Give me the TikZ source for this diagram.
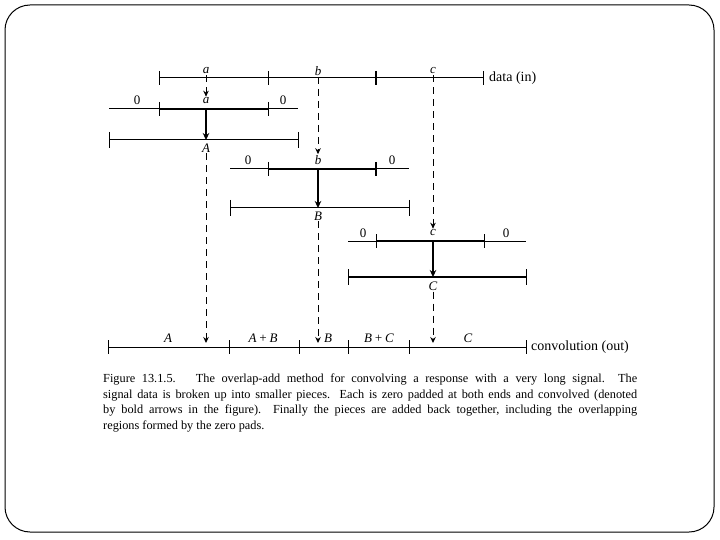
\documentclass[tikz,border=0pt]{standalone}
\usepackage{fontspec}
\setmainfont{Liberation Serif}
\usetikzlibrary{arrows.meta}
\newcommand\wsp{\char32\hskip 0pt plus 4pt\relax}
\newcommand\fwsp{\char32\relax}
\begin{document}
\begin{tikzpicture}[x=1pt,y=-1pt,
  seg/.style={line width=1pt},
  bseg/.style={line width=1.7pt},
  tk/.style={line width=1pt},
  btk/.style={line width=2pt},
  darrow/.style={line width=0.9pt, dash pattern=on 7pt off 5pt, -{Stealth[length=6pt,width=5.5pt]}},
  barrow/.style={line width=2.3pt, -{Stealth[length=7pt,width=6.5pt]}},
  lbl/.style={font=\fontsize{13}{14}\selectfont\itshape, inner sep=1pt},
  zlbl/.style={font=\fontsize{13}{14}\selectfont, inner sep=1pt},
  txt/.style={font=\fontsize{14}{15}\selectfont, inner sep=0pt, anchor=west}]
\useasboundingbox (0,0) rectangle (720,540);
\draw[line width=1pt, rounded corners=25pt] (5,5) rectangle (714,532);

% data (in)
\coordinate (d0) at (159,78); \coordinate (d3) at (483,78);
\draw[seg] (d0) -- (d3);
\draw[tk] (159,71) -- (159,85);
\draw[tk] (268,71) -- (268,85);
\draw[btk] (376,71) -- (376,85);
\draw[tk] (483,71) -- (483,85);
\node[lbl] (a) at (206,71) {a};
\node[lbl] (b) at (318,71) {b};
\node[lbl] (c) at (433,71) {c};
\node[txt] (din) at (489,78) {data\fwsp(in)};

% row a padded
\coordinate (r2l) at (109,109); \coordinate (r2r) at (298,109);
\draw[seg] (r2l) -- (r2r);
\draw[bseg] (159,109) -- (268,109);
\draw[tk] (159,102) -- (159,116);
\draw[tk] (268,102) -- (268,116);
\node[zlbl] (za1) at (137,100) {0};
\node[lbl] (a2) at (206,101) {a};
\node[zlbl] (za2) at (283,100) {0};
\coordinate (a2b) at (206,109);
\draw[darrow] (a.south) -- (a2.north);

% row A
\coordinate (r3l) at (109,140); \coordinate (r3r) at (298,140);
\draw[seg] (r3l) -- (r3r);
\draw[tk] (109,132) -- (109,148);
\draw[tk] (298,132) -- (298,148);
\node[lbl] (A) at (206,148) {A};
\coordinate (A0) at (206,140);
\draw[barrow] (a2b) -- (A0);

% row b padded
\coordinate (r4l) at (230,169); \coordinate (r4r) at (409,169);
\draw[seg] (r4l) -- (r4r);
\draw[bseg] (268,169) -- (376,169);
\draw[tk] (268,162) -- (268,176);
\draw[btk] (376,162) -- (376,176);
\node[zlbl] (zb1) at (248,160) {0};
\node[lbl] (b2) at (318,160) {b};
\node[zlbl] (zb2) at (392,160) {0};
\coordinate (b2b) at (318,169);
\draw[darrow] (b.south) -- (b2.north);

% row B
\coordinate (r5l) at (230,208); \coordinate (r5r) at (409,208);
\draw[seg] (r5l) -- (r5r);
\draw[tk] (230,200) -- (230,216);
\draw[tk] (409,200) -- (409,216);
\node[lbl] (B) at (318,216) {B};
\coordinate (B0) at (318,208);
\draw[barrow] (b2b) -- (B0);

% row c padded
\coordinate (r6l) at (348,241); \coordinate (r6r) at (526,241);
\draw[seg] (r6l) -- (r6r);
\draw[bseg] (376,241) -- (484,241);
\draw[tk] (376,234) -- (376,248);
\draw[tk] (484,234) -- (484,248);
\node[zlbl] (zc1) at (363,233) {0};
\node[lbl] (c2) at (433,233) {c};
\node[zlbl] (zc2) at (506,233) {0};
\coordinate (c2b) at (433,241);
\draw[darrow] (c.south) -- (c2.north);

% row C
\coordinate (r7l) at (348,277); \coordinate (r7r) at (526,277);
\draw[bseg] (r7l) -- (r7r);
\draw[tk] (348,269) -- (348,285);
\draw[tk] (526,269) -- (526,285);
\node[lbl] (C) at (433,286) {C};
\coordinate (C0) at (433,277);
\draw[barrow] (c2b) -- (C0);

% convolution (out)
\coordinate (o0) at (108,347); \coordinate (o5) at (526,347);
\draw[seg] (o0) -- (o5);
\foreach \x in {108,229,299,348,409,526} \draw[tk] (\x,340) -- (\x,354);
\node[lbl] (oA) at (168,338) {A};
\node[lbl] (oAB) at (263,338) {A\,+\,B};
\node[lbl] (oB) at (328,338) {B};
\node[lbl] (oBC) at (379,338) {B\,+\,C};
\node[lbl] (oC) at (468,338) {C};
\node[txt] (dout) at (531,347) {convolution\fwsp(out)};
\coordinate (tA) at (206,343);
\coordinate (tB) at (318,343);
\coordinate (tC) at (433,343);
\draw[darrow] (A.south) -- (tA);
\draw[darrow] (B.south) -- (tB);
\draw[darrow] (C.south) -- (tC);

% caption
\node[anchor=north west, inner sep=0pt, text width=534pt, align=justify,
      font=\fontsize{12.3}{15.5}\selectfont] (cap) at (103,374)
{Figure\wsp 13.1.5.\wsp\hspace{1.1em}The\wsp overlap-add\wsp method\wsp for\wsp convolving\wsp a\wsp response\wsp with\wsp a\wsp very\wsp long\wsp signal.\wsp\wsp The\linebreak
signal\wsp data\wsp is\wsp broken\wsp up\wsp into\wsp smaller\wsp pieces.\wsp\wsp Each\wsp is\wsp zero\wsp padded\wsp at\wsp both\wsp ends\wsp and\wsp convolved\wsp (denoted\linebreak
by\wsp bold\wsp arrows\wsp in\wsp the\wsp figure).\wsp\wsp Finally\wsp the\wsp pieces\wsp are\wsp added\wsp back\wsp together,\wsp including\wsp the\wsp overlapping\linebreak
regions\wsp formed\wsp by\wsp the\wsp zero\wsp pads.};
\end{tikzpicture}
\end{document}
